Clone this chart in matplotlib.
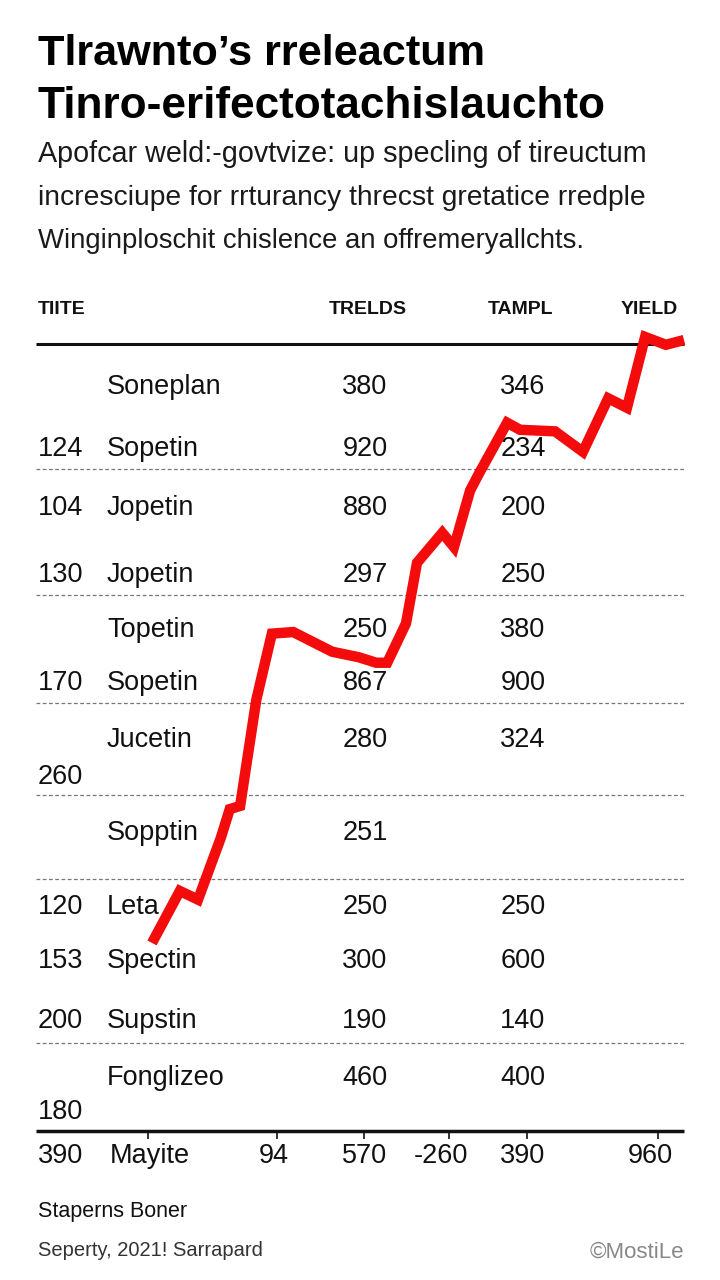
import matplotlib
matplotlib.use('Agg')
import matplotlib.pyplot as plt
from matplotlib import font_manager as fm

# table content
row_ids = ['', '124', '104', '130', '', '170', '', '', '120', '153', '200', '']
row_names = ['Soneplan', 'Sopetin', 'Jopetin', 'Jopetin', 'Topetin', 'Sopetin',
             'Jucetin', 'Sopptin', 'Leta', 'Spectin', 'Supstin', 'Fonglizeo']
trelds = ['380', '920', '880', '297', '250', '867', '280', '251', '250', '300', '190', '460']
tampl = ['346', '234', '200', '250', '380', '900', '324', '', '250', '600', '140', '400']
extra_ids = ['260', '180']
col_heads = ['TIITE', 'TRELDS', 'TAMPL', 'YIELD']
bottom_labels = ['390', 'Mayite', '94', '570', '-260', '390', '960']

# yield path, percent of table width / height
yield_x = [17.9, 22.2, 25.0, 28.5, 29.9, 31.5, 34.0, 36.4, 39.7, 45.7, 49.8, 52.5, 54.2, 57.1,
           58.8, 62.7, 64.5, 67.0, 68.4, 72.7, 74.7, 80.1, 84.4, 88.3, 91.2, 94.0, 97.2, 100.0]
yield_y = [23.9, 30.5, 29.4, 37.2, 40.9, 41.3, 54.8, 63.2, 63.4, 60.9, 60.2, 59.5, 59.5, 64.5,
           72.2, 76.0, 74.2, 81.4, 83.6, 90.0, 89.1, 88.9, 86.3, 93.1, 91.9, 100.9, 99.9, 100.5]

# layout (pixels)
row_y = [387, 449, 508, 575, 630, 683, 740, 833, 907, 961, 1021, 1078]
extra_y = [777, 1112]
dash_y = [469, 595, 703, 795, 879, 1043]
head_x = [38, 368, 520, 649]
bottom_x = [38, 150, 274, 365, 441, 523, 650]
tick_x = [148, 277, 364, 449, 527, 658]


def has_font(name):
    try:
        fm.findfont(fm.FontProperties(family=name), fallback_to_default=False)
        return True
    except Exception:
        return False


narrow = 'Liberation Sans Narrow' if has_font('Liberation Sans Narrow') else 'Liberation Sans'
plain = 'Liberation Sans'
fs = 19.5

fig = plt.figure(figsize=(7.2, 12.8), dpi=100)
bg = fig.add_axes([0, 0, 1, 1])
bg.set_xlim(0, 720)
bg.set_ylim(1280, 0)
bg.axis('off')
renderer = fig.canvas.get_renderer()


def fit(t, width):
    w = t.get_window_extent(renderer).width
    t.set_fontsize(t.get_fontsize() * width / w)


# title + subtitle
t1 = bg.text(38, 65, "Tlrawnto\u2019s rreleactum", fontsize=30, fontweight='bold',
             family=narrow, va='baseline', color='#000')
t2 = bg.text(38, 118, "Tinro-erifectotachislauchto", fontsize=30, fontweight='bold',
             family=narrow, va='baseline', color='#000')
fit(t1, 448)
fit(t2, 568)
subs = ["Apofcar weld:-govtvize: up specling of tireuctum",
        "incresciupe for rrturancy threcst gretatice rredple",
        "Winginploschit chislence an offremeryallchts."]
sub_w = [608, 608, 548]
for i, s in enumerate(subs):
    t = bg.text(38, 162 + i * 43, s, fontsize=19, family=plain, va='baseline', color='#1a1a1a')
    fit(t, sub_w[i])

# header
for i, h in enumerate(col_heads):
    ha = 'left' if i == 0 else 'center'
    bg.text(head_x[i], 310, h, fontsize=14, fontweight='bold', family=narrow,
            ha=ha, va='center', color='#111')
bg.hlines(344, 36, 684, color='#111', lw=2.2)

# rows
for i in range(len(row_names)):
    y = row_y[i]
    bg.text(38, y, row_ids[i], fontsize=fs, family=plain, va='center', color='#111')
    bg.text(107, y, row_names[i], fontsize=fs, family=plain, va='center', color='#111')
    bg.text(365, y, trelds[i], fontsize=fs, family=plain, va='center', ha='center', color='#111')
    bg.text(523, y, tampl[i], fontsize=fs, family=plain, va='center', ha='center', color='#111')
for i, e in enumerate(extra_ids):
    bg.text(38, extra_y[i], e, fontsize=fs, family=plain, va='center', color='#111')

for y in dash_y:
    bg.hlines(y, 36, 684, color='#777', lw=0.9, linestyles=(0, (3, 2)))

# bottom axis
bg.hlines(1131, 36, 684, color='#111', lw=2.5)
bg.vlines(tick_x, 1131, 1139, color='#111', lw=1.2)
for i, b in enumerate(bottom_labels):
    ha = 'left' if i == 0 else 'center'
    bg.text(bottom_x[i], 1156, b, fontsize=fs, family=plain, ha=ha, va='center', color='#111')

# footer
bg.text(38, 1211, 'Staperns Boner', fontsize=15.5, family=plain, va='center', color='#111')
bg.text(38, 1250, 'Seperty, 2021! Sarrapard', fontsize=14.5, family=plain, va='center', color='#333')
bg.text(684, 1252, '\u00a9MostiLe', fontsize=16, family=plain, va='center', ha='right', color='#888')

# the red yield line over the table area
ax = fig.add_axes([36 / 720, 1 - 1131 / 1280, 648 / 720, 787 / 1280])
ax.set_xlim(0, 100)
ax.set_ylim(0, 100)
ax.axis('off')
ax.patch.set_alpha(0)
ax.plot(yield_x, yield_y, color='#f40b0b', lw=7.5, solid_joinstyle='miter',
        solid_capstyle='butt', clip_on=False)

fig.savefig('out.png', dpi=100)
